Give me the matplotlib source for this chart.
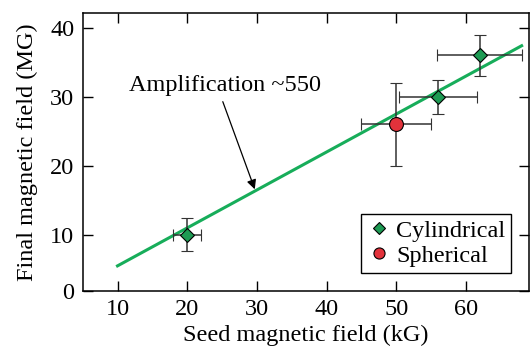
import matplotlib
matplotlib.use("Agg")
import numpy as np
import matplotlib.pyplot as plt

# Cylindrical implosions: seed field (kG), final field (MG), error bars
cyl_seed = [20, 56, 62]
cyl_final = [10, 30, 36]
cyl_seed_err = [2, 5.6, 6.1]
cyl_final_err = [2.4, 2.5, 3.0]

# Spherical implosion
sph_seed = [50]
sph_final = [26]
sph_seed_err = [5]
sph_final_err = [6]

# Linear fit, amplification ~550 (MG per kG = 0.55)
fit_seed = np.array([10, 68])
gain = 0.55

yticks = [10, 20, 30, 40]
xticks = [10, 20, 30, 40, 50, 60]

plt.rcParams['font.family'] = ['Liberation Serif', 'DejaVu Serif']

fig = plt.figure(figsize=(5.30, 3.56), dpi=100)
ax = fig.add_axes([0.156, 0.183, 0.8427, 0.7796])

ax.plot(fit_seed, gain * fit_seed, color='#17ad5a', lw=2.2, zorder=2)

cyl = ax.errorbar(cyl_seed, cyl_final, xerr=cyl_seed_err, yerr=cyl_final_err,
                  fmt='D', ms=7.2, mfc='#1d9a53', mec='black', mew=0.8,
                  ecolor='#333333', elinewidth=1.1, capsize=4, capthick=1.1,
                  zorder=3)
sph = ax.errorbar(sph_seed, sph_final, xerr=sph_seed_err, yerr=sph_final_err,
                  fmt='o', ms=10, mfc='#e2323b', mec='black', mew=0.8,
                  ecolor='#333333', elinewidth=1.1, capsize=4, capthick=1.1,
                  zorder=3)

ax.annotate('Amplification ~550', xy=(29.7, 16.6), xytext=(11.6, 31.6),
            fontsize=17.5, va='center', ha='left',
            arrowprops=dict(arrowstyle='-|>', color='black', lw=0.9,
                            mutation_scale=14, shrinkA=2, shrinkB=0,
                            relpos=(0.48, 0.0)))

ax.set_xlim(5, 69.1)
ax.set_ylim(1.88, 42.1)
ax.set_xticks(xticks)
ax.set_yticks([1.88] + yticks)
ax.set_yticklabels(['0'] + [str(t) for t in yticks])
ax.tick_params(direction='in', length=7, width=1, top=True, right=True,
               labelsize=17.5, pad=6)
for s in ax.spines.values():
    s.set_linewidth(1.1)

ax.set_xlabel('Seed magnetic field (kG)', fontsize=17.5, labelpad=3)
ax.set_ylabel('Final magnetic field (MG)', fontsize=17.5, labelpad=9)

leg = ax.legend([cyl[0], sph[0]], ['Cylindrical', 'Spherical'],
                loc='lower right', fontsize=17.5, frameon=True, fancybox=False,
                edgecolor='black', framealpha=1, handletextpad=0.2,
                handlelength=1.0, borderpad=0.25, labelspacing=0.12,
                markerscale=0.8, borderaxespad=0.75)
leg.get_frame().set_linewidth(1.0)

fig.savefig('out.png', dpi=100)
